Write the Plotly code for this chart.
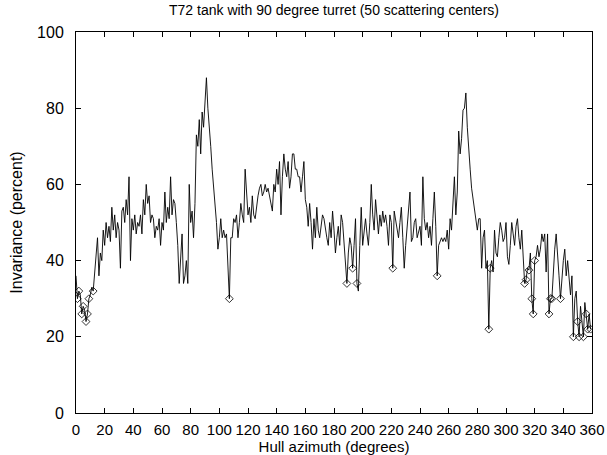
import plotly.graph_objects as go

azimuth = list(range(0, 360))
invariance = [
    36, 30, 32, 31, 26, 28, 27, 24, 26, 30,
    31, 33, 32, 37, 42, 46, 36, 42, 40, 48,
    44, 50, 46, 49, 45, 54, 48, 52, 46, 50,
    48, 38, 53, 54, 50, 56, 52, 62, 40, 51,
    48, 52, 47, 50, 49, 52, 47, 56, 52, 60,
    55, 57, 50, 52, 51, 46, 49, 48, 51, 44,
    50, 48, 58, 50, 54, 51, 62, 52, 56, 55,
    50, 44, 34, 40, 47, 34, 36, 40, 34, 60,
    50, 53, 46, 55, 73, 70, 77, 68, 79, 75,
    82, 88, 80, 76, 70, 64, 60, 56, 50, 43,
    46, 51, 46, 48, 46, 47, 40, 30, 46, 46,
    51, 50, 52, 46, 50, 55, 52, 50, 64, 58,
    52, 54, 50, 57, 52, 51, 55, 57, 59, 60,
    57, 58, 60, 58, 59, 57, 54, 53, 60, 58,
    64, 60, 66, 52, 62, 68, 64, 62, 66, 59,
    62, 68, 68, 64, 64, 62, 62, 58, 62, 66,
    56, 54, 49, 55, 50, 43, 51, 46, 54, 48,
    46, 50, 52, 51, 48, 46, 44, 50, 46, 53,
    48, 42, 46, 49, 44, 52, 50, 44, 40, 34,
    42, 46, 44, 38, 44, 51, 34, 32, 44, 54,
    44, 48, 51, 47, 44, 50, 60, 52, 48, 56,
    50, 47, 52, 49, 53, 50, 52, 49, 44, 52,
    50, 38, 53, 51, 48, 46, 50, 54, 46, 38,
    44, 49, 52, 58, 45, 46, 50, 51, 46, 48,
    49, 44, 62, 51, 48, 50, 46, 49, 44, 51,
    58, 49, 36, 44, 45, 46, 45, 46, 45, 48,
    43, 51, 48, 55, 62, 52, 58, 74, 68, 72,
    79.5, 80, 84, 75, 68, 64, 59, 56, 53, 50,
    48, 51, 51, 38, 46, 48, 38, 40, 22, 38,
    40, 37, 48, 42, 41, 46, 50, 48, 45, 46,
    50, 41, 39, 44, 50, 47, 44, 49, 51, 46,
    43, 48, 42, 34, 35, 38, 37.5, 42, 30, 26,
    40, 41, 44, 41, 43, 47, 45, 47, 37, 47,
    26, 30, 30, 38, 43, 47, 40, 36, 30, 36,
    40, 43, 36, 40, 34, 31, 36, 20, 30, 32,
    24, 20, 28, 24, 20, 29, 26, 22, 26, 22,
]
center_idx = [1, 2, 4, 5, 7, 8, 9, 12, 107, 189, 193, 196, 221, 252, 288, 289,
              313, 314, 316, 318, 319, 320, 330, 331, 332, 338, 347, 350, 351,
              354, 356, 357, 359]

x_ticks = list(range(0, 361, 20))
y_ticks = list(range(0, 101, 20))

FONT = "Liberation Sans, Arial, sans-serif"

fig = go.Figure()
fig.add_trace(go.Scatter(
    x=azimuth, y=invariance, mode="lines",
    line=dict(color="black", width=0.9), showlegend=False, hoverinfo="skip"))
fig.add_trace(go.Scatter(
    x=[azimuth[i] for i in center_idx], y=[invariance[i] for i in center_idx],
    mode="markers",
    marker=dict(symbol="diamond-open", size=6, color="black", line=dict(width=0.8, color="black")),
    showlegend=False))

axis_common = dict(
    showgrid=False, zeroline=False, showline=True, linecolor="black", linewidth=1,
    mirror="allticks", ticks="inside", ticklen=5, tickcolor="black", tickwidth=1,
    automargin=False, tickangle=0,
)
fig.update_xaxes(range=[0, 360], tickvals=x_ticks, ticktext=[str(v) for v in x_ticks],
                 ticklabelstandoff=3,
                 tickfont=dict(family=FONT, size=15, color="black"),
                 title_font=dict(family=FONT, size=15, color="black"),
                 title_text="Hull azimuth (degrees)", title_standoff=2, **axis_common)
fig.update_yaxes(range=[0, 100], tickvals=y_ticks, ticktext=[str(v) for v in y_ticks],
                 ticklabelstandoff=8,
                 tickfont=dict(family=FONT, size=16, color="black"),
                 title_font=dict(family=FONT, size=16, color="black"),
                 title_text="Invariance (percent)", title_standoff=10, **axis_common)

fig.update_layout(
    width=607, height=455, plot_bgcolor="white", paper_bgcolor="white",
    margin=dict(l=76, r=15, t=32, b=42),
    title=dict(text="T72 tank with 90 degree turret (50 scattering centers)",
               x=334 / 607, xanchor="center",
               y=1 - 10 / 455, yanchor="middle",
               font=dict(family=FONT, size=14, color="black")),
)
fig.write_html("out.html")
